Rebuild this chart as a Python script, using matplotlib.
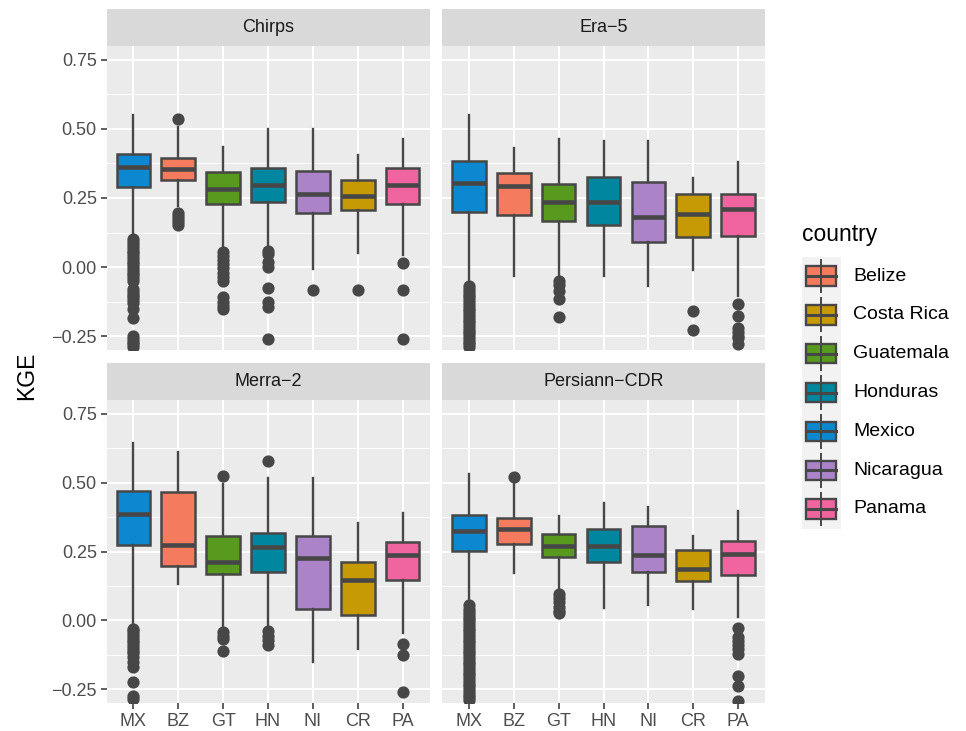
import matplotlib
matplotlib.use("Agg")
import matplotlib.pyplot as plt
from matplotlib.patches import Rectangle

plt.rcParams["font.family"] = ["Liberation Sans", "DejaVu Sans"]

# country order on the x axis and their colours
codes = ["MX", "BZ", "GT", "HN", "NI", "CR", "PA"]
names = ["Mexico", "Belize", "Guatemala", "Honduras", "Nicaragua", "Costa Rica", "Panama"]
colors = {
    "Belize": "#F47B5E",
    "Costa Rica": "#C59A04",
    "Guatemala": "#579A1E",
    "Honduras": "#00879F",
    "Mexico": "#0B88D0",
    "Nicaragua": "#AA83C9",
    "Panama": "#F0649F",
}
legend_order = ["Belize", "Costa Rica", "Guatemala", "Honduras", "Mexico", "Nicaragua", "Panama"]

sources = ["Chirps", "Era\u22125", "Merra\u22122", "Persiann\u2212CDR"]

# box statistics per source, one value per country (MX, BZ, GT, HN, NI, CR, PA)
chirps_med = [0.361, 0.354, 0.283, 0.297, 0.265, 0.259, 0.297]
chirps_q1 = [0.289, 0.314, 0.228, 0.235, 0.195, 0.206, 0.228]
chirps_q3 = [0.410, 0.394, 0.345, 0.357, 0.348, 0.316, 0.359]
chirps_lo = [0.108, 0.221, 0.066, 0.075, -0.007, 0.052, 0.045]
chirps_hi = [0.551, 0.507, 0.434, 0.499, 0.499, 0.406, 0.465]
chirps_out = [
    [0.10, 0.09, 0.08, 0.07, 0.06, 0.05, 0.04, 0.03, 0.02, 0.01, 0.00, -0.01, -0.02,
     -0.03, -0.04, -0.05, -0.08, -0.09, -0.10, -0.11, -0.12, -0.13, -0.15, -0.184,
     -0.25, -0.26, -0.27, -0.28, -0.29],
    [0.536, 0.196, 0.185, 0.175, 0.162, 0.151],
    [0.054, 0.04, 0.025, 0.01, -0.005, -0.02, -0.035, -0.049, -0.109, -0.125, -0.14, -0.152],
    [0.06, 0.048, 0.017, 0.002, -0.076, -0.128, -0.146, -0.261],
    [-0.083],
    [-0.083],
    [0.014, -0.083, -0.259],
]

era_med = [0.303, 0.294, 0.237, 0.234, 0.180, 0.192, 0.209]
era_q1 = [0.200, 0.187, 0.168, 0.151, 0.090, 0.108, 0.111]
era_q3 = [0.384, 0.342, 0.300, 0.325, 0.309, 0.264, 0.263]
era_lo = [-0.065, -0.031, -0.031, -0.031, -0.070, -0.009, -0.104]
era_hi = [0.551, 0.430, 0.463, 0.458, 0.458, 0.321, 0.382]
era_out = [
    [-0.07, -0.08, -0.09, -0.10, -0.11, -0.12, -0.13, -0.14, -0.15, -0.16, -0.17, -0.18,
     -0.19, -0.20, -0.21, -0.22, -0.23, -0.24, -0.25, -0.26, -0.27, -0.28, -0.29],
    [],
    [-0.052, -0.065, -0.088, -0.116, -0.180],
    [],
    [],
    [-0.158, -0.229],
    [-0.132, -0.177, -0.221, -0.235, -0.248, -0.255, -0.28],
]

merra_med = [0.387, 0.274, 0.211, 0.267, 0.225, 0.148, 0.239]
merra_q1 = [0.272, 0.199, 0.169, 0.176, 0.043, 0.021, 0.146]
merra_q3 = [0.471, 0.467, 0.308, 0.316, 0.308, 0.211, 0.285]
merra_lo = [-0.024, 0.131, -0.027, -0.030, -0.152, -0.103, -0.046]
merra_hi = [0.643, 0.610, 0.494, 0.516, 0.516, 0.352, 0.388]
merra_out = [
    [-0.03, -0.04, -0.05, -0.06, -0.07, -0.08, -0.09, -0.10, -0.11, -0.12, -0.134,
     -0.15, -0.17, -0.225, -0.273, -0.284],
    [],
    [0.524, -0.043, -0.055, -0.067, -0.113],
    [0.580, -0.04, -0.055, -0.07, -0.09],
    [],
    [],
    [-0.085, -0.127, -0.261],
]

pers_med = [0.324, 0.331, 0.270, 0.270, 0.239, 0.186, 0.241]
pers_q1 = [0.251, 0.277, 0.229, 0.211, 0.175, 0.142, 0.163]
pers_q3 = [0.382, 0.372, 0.314, 0.331, 0.342, 0.255, 0.288]
pers_lo = [0.061, 0.172, 0.109, 0.045, 0.055, 0.042, 0.012]
pers_hi = [0.530, 0.498, 0.380, 0.427, 0.412, 0.307, 0.398]
pers_out = [
    [0.055, 0.04, 0.03, 0.02, 0.01, 0.0, -0.01, -0.02, -0.03, -0.04, -0.05, -0.06,
     -0.07, -0.08, -0.09, -0.10, -0.11, -0.12, -0.13, -0.14, -0.15, -0.16, -0.17,
     -0.18, -0.19, -0.20, -0.21, -0.22, -0.23, -0.24, -0.25, -0.26, -0.27, -0.28, -0.29],
    [0.522],
    [0.097, 0.08, 0.065, 0.05, 0.035, 0.025],
    [],
    [],
    [],
    [-0.028, -0.061, -0.075, -0.09, -0.105, -0.121, -0.203, -0.240, -0.291],
]

panel_stats = [
    (chirps_med, chirps_q1, chirps_q3, chirps_lo, chirps_hi, chirps_out),
    (era_med, era_q1, era_q3, era_lo, era_hi, era_out),
    (merra_med, merra_q1, merra_q3, merra_lo, merra_hi, merra_out),
    (pers_med, pers_q1, pers_q3, pers_lo, pers_hi, pers_out),
]

yticks = [-0.25, 0.0, 0.25, 0.50, 0.75]
ytick_labels = ["\u22120.25", "0.00", "0.25", "0.50", "0.75"]
minor_y = [-0.125, 0.125, 0.375, 0.625]

W, H = 966, 731
edge = "#474747"
panel_bg = "#EBEBEB"
strip_bg = "#D9D9D9"

fig = plt.figure(figsize=(W / 100, H / 100), dpi=100)

# panel boxes in pixels: (left, top, width, height)
panel_px = [(106.5, 46, 323, 304), (442, 46, 323, 304),
            (106.5, 400, 323, 303), (442, 400, 323, 303)]
strip_h = 37

for i, (src, (med, q1, q3, lo, hi, out)) in enumerate(zip(sources, panel_stats)):
    left, top, pw, ph = panel_px[i]
    ax = fig.add_axes([left / W, 1 - (top + ph) / H, pw / W, ph / H])
    ax.set_facecolor(panel_bg)
    for s in ax.spines.values():
        s.set_visible(False)

    stats = []
    for j in range(len(codes)):
        stats.append({"med": med[j], "q1": q1[j], "q3": q3[j],
                      "whislo": lo[j], "whishi": hi[j], "fliers": out[j]})
    pos = list(range(1, len(codes) + 1))

    for y in minor_y:
        ax.axhline(y, color="white", lw=0.7, zorder=0)
    for y in yticks:
        ax.axhline(y, color="white", lw=1.5, zorder=0)
    for x in pos:
        ax.axvline(x, color="white", lw=1.5, zorder=0)

    bp = ax.bxp(stats, positions=pos, widths=0.75, patch_artist=True, showcaps=False,
                boxprops=dict(edgecolor=edge, linewidth=1.8),
                whiskerprops=dict(color=edge, linewidth=1.7),
                medianprops=dict(color=edge, linewidth=3.3, solid_capstyle="butt"),
                flierprops=dict(marker="o", markerfacecolor=edge, markeredgecolor="none",
                                markersize=8.8))
    for patch, nm in zip(bp["boxes"], names):
        patch.set_facecolor(colors[nm])

    ax.set_xlim(0.4, 7.6)
    ax.set_ylim(-0.30, 0.80)
    ax.set_xticks(pos)
    ax.set_yticks(yticks)
    ax.tick_params(axis="both", length=4, width=1.1, color="#333333",
                   labelsize=13, labelcolor="#4D4D4D", pad=3)
    if i >= 2:
        ax.set_xticklabels(codes)
    else:
        ax.tick_params(axis="x", length=0, labelbottom=False)
    if i % 2 == 0:
        ax.set_yticklabels(ytick_labels)
    else:
        ax.tick_params(axis="y", length=0, labelleft=False)

    # facet strip
    sax = fig.add_axes([left / W, 1 - top / H, pw / W, strip_h / H])
    sax.set_facecolor(strip_bg)
    sax.set_xticks([])
    sax.set_yticks([])
    for s in sax.spines.values():
        s.set_visible(False)
    sax.text(0.5, 0.5, src, ha="center", va="center", fontsize=13, color="#1A1A1A")

fig.text(27 / W, 1 - 376 / H, "KGE", rotation=90, ha="center", va="center",
         fontsize=16.5, color="black")

# legend
fig.text(802 / W, 1 - 234 / H, "country", ha="left", va="center", fontsize=16.5,
         color="black")
lax = fig.add_axes([801.5 / W, 1 - 528.5 / H, 39 / W, 272 / H])
lax.set_xlim(0, 1)
lax.set_ylim(len(legend_order), 0)
lax.axis("off")
lax.add_patch(Rectangle((0, 0), 1, len(legend_order), facecolor="#F2F2F2",
                        edgecolor="none", transform=lax.transData))
for k, nm in enumerate(legend_order):
    yc = k + 0.5
    lax.plot([0.5, 0.5], [k + 0.08, k + 0.92], color=edge, lw=1.4)
    lax.add_patch(Rectangle((0.12, yc - 0.25), 0.76, 0.5, facecolor=colors[nm],
                            edgecolor=edge, lw=1.7))
    lax.plot([0.12, 0.88], [yc, yc], color=edge, lw=2.2)
    fig.text(853 / W, 1 - (256.7 + 38.8 * yc) / H, nm, ha="left", va="center",
             fontsize=14, color="black")

fig.savefig("out.png", dpi=100)
